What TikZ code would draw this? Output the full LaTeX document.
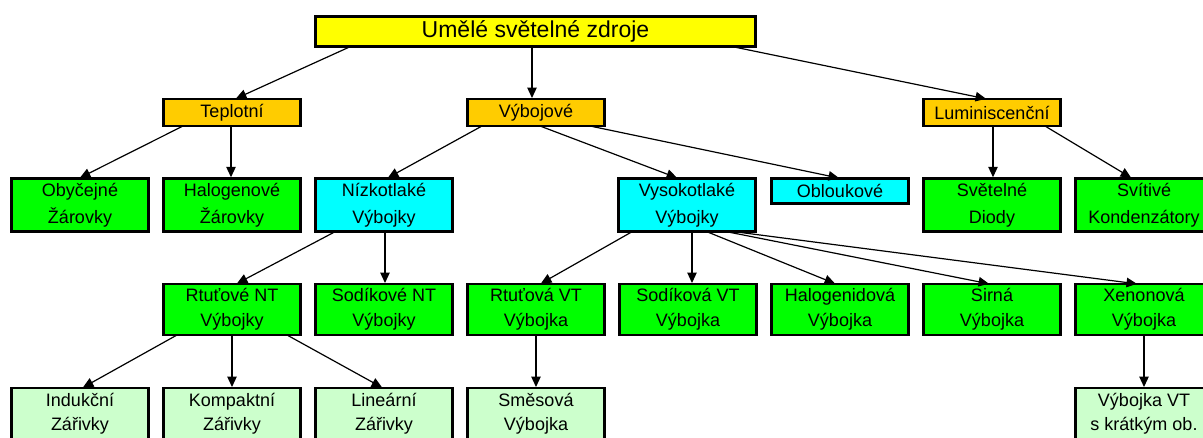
\documentclass[tikz,border=0pt]{standalone}
\usepackage{fontspec}
\setmainfont{Liberation Sans}
\usetikzlibrary{arrows.meta}

\definecolor{rootyellow}{HTML}{FFFF00}
\definecolor{grouporange}{HTML}{FFCC00}
\definecolor{leafgreen}{HTML}{00FF00}
\definecolor{lampcyan}{HTML}{00FFFF}
\definecolor{palegreen}{HTML}{CCFFCC}

\begin{document}
\begin{tikzpicture}[x=1pt, y=-1pt,
  box/.style={draw=black, line width=2.6pt, inner sep=0pt, outer sep=0pt,
    minimum width=136.5pt, align=center, text=black,
    font=\fontsize{18}{27}\selectfont},
  rootbox/.style={box, fill=rootyellow, minimum width=440.5pt, minimum height=30.5pt,
    font=\fontsize{23}{26}\selectfont},
  groupbox/.style={box, fill=grouporange, minimum height=27pt},
  tallbox/.style={box, minimum height=53.5pt},
  rowthree/.style={tallbox, minimum height=51pt, font=\fontsize{18}{25}\selectfont},
  rowfour/.style={tallbox, minimum height=51pt, fill=palegreen, font=\fontsize{18}{24}\selectfont},
  conn/.style={-{Triangle[length=10.5pt,width=9.5pt]}, line width=1.2pt, shorten >=1pt}
]
\useasboundingbox (0,0) rectangle (1203,437);

% root
\node[rootbox] (root) at (535.5,31.5) {Umělé světelné zdroje};

% main groups
\node[groupbox] (tep) at (232,112.5) {Teplotní};
\node[groupbox] (vyb) at (536,112.5) {Výbojové};
\node[groupbox] (lum) at (992,112.5) {Luminiscenční};

% second level
\node[tallbox, fill=leafgreen] (oby) at (80,205) {Obyčejné\\Žárovky};
\node[tallbox, fill=leafgreen] (hal) at (232,205) {Halogenové\\Žárovky};
\node[tallbox, fill=lampcyan] (niz) at (384,205) {Nízkotlaké\\Výbojky};
\node[tallbox, fill=lampcyan] (vys) at (687,205) {Vysokotlaké\\Výbojky};
\node[box, fill=lampcyan, minimum height=25.5pt] (obl) at (840,191) {Obloukové};
\node[tallbox, fill=leafgreen] (svd) at (992,205) {Světelné\\Diody};
\node[tallbox, fill=leafgreen] (svk) at (1144,205) {Svítivé\\Kondenzátory};

% third level
\node[rowthree, fill=leafgreen] (rnt) at (232,309.5) {Rtuťové NT\\Výbojky};
\node[rowthree, fill=leafgreen] (snt) at (384,309.5) {Sodíkové NT\\Výbojky};
\node[rowthree, fill=leafgreen] (rvt) at (536,309.5) {Rtuťová VT\\Výbojka};
\node[rowthree, fill=leafgreen] (svt) at (688,309.5) {Sodíková VT\\Výbojka};
\node[rowthree, fill=leafgreen] (hgd) at (840,309.5) {Halogenidová\\Výbojka};
\node[rowthree, fill=leafgreen] (sir) at (992,309.5) {Sirná\\Výbojka};
\node[rowthree, fill=leafgreen] (xen) at (1144,309.5) {Xenonová\\Výbojka};

% fourth level
\node[rowfour] (ind) at (80,413.5) {Indukční\\Zářivky};
\node[rowfour] (kom) at (232,413.5) {Kompaktní\\Zářivky};
\node[rowfour] (lin) at (384,413.5) {Lineární\\Zářivky};
\node[rowfour] (sms) at (536,413.5) {Směsová\\Výbojka};
\node[rowfour] (kro) at (1144,413.5) {Výbojka VT\\s krátkým ob.};

% connectors
\draw[conn] ([xshift=-185.5pt]root.south) -- ([xshift=3pt]tep.north);
\draw[conn] ([xshift=-3.5pt]root.south) -- ([xshift=-4pt]vyb.north);
\draw[conn] ([xshift=197.5pt]root.south) -- ([xshift=-5pt]lum.north);

\draw[conn] ([xshift=-49pt]tep.south) -- ([xshift=-1pt]oby.north);
\draw[conn] ([xshift=-1pt]tep.south) -- ([xshift=-1pt]hal.north);
\draw[conn] ([xshift=-54pt]vyb.south) -- ([xshift=3pt]niz.north);
\draw[conn] ([xshift=4pt]vyb.south) -- ([xshift=-9pt]vys.north);
\draw[conn] ([xshift=54pt]vyb.south) -- (obl.north);
\draw[conn] ([xshift=1pt]lum.south) -- ([xshift=1pt]svd.north);
\draw[conn] ([xshift=53pt]lum.south) -- ([xshift=-12pt]svk.north);

\draw[conn] ([xshift=-49pt]niz.south) -- ([xshift=4pt]rnt.north);
\draw[conn] ([xshift=1pt]niz.south) -- ([xshift=1pt]snt.north);
\draw[conn] ([xshift=-55pt]vys.south) -- ([xshift=4pt]rvt.north);
\draw[conn] ([xshift=5pt]vys.south) -- ([xshift=4pt]svt.north);
\draw[conn] ([xshift=20pt]vys.south) -- ([xshift=-4pt]hgd.north);
\draw[conn] ([xshift=40pt]vys.south) -- ([xshift=-2pt]sir.north);
\draw[conn] ([xshift=48pt]vys.south) -- ([xshift=-6pt]xen.north);

\draw[conn] ([xshift=-55pt]rnt.south) -- ([xshift=2pt]ind.north);
\draw[conn] (rnt.south) -- (kom.north);
\draw[conn] ([xshift=55pt]rnt.south) -- ([xshift=-1pt]lin.north);
\draw[conn] (rvt.south) -- (sms.north);
\draw[conn] (xen.south) -- (kro.north);
\end{tikzpicture}
\end{document}
